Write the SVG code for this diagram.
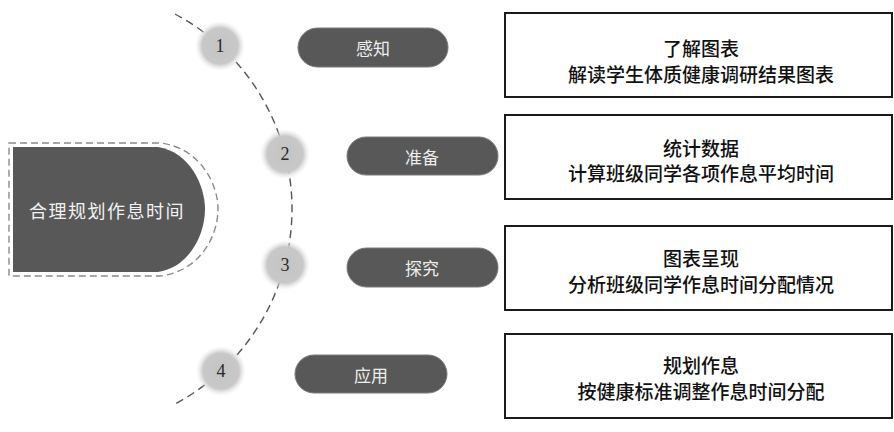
<svg xmlns="http://www.w3.org/2000/svg" width="894" height="432" viewBox="0 0 894 432">
<defs>
<radialGradient id="cg" cx="50%" cy="50%" r="50%">
<stop offset="0%" stop-color="#c4c4c4"/>
<stop offset="72%" stop-color="#c8c8c8"/>
<stop offset="100%" stop-color="#e6e6e6" stop-opacity="0"/>
</radialGradient>
<style>
.num{font-family:"Liberation Serif",serif;font-size:18px;fill:#2a2a2a;text-anchor:middle;dominant-baseline:central}
.pill{fill:#585858;stroke:#7a7a7a;stroke-width:1}
.ptxt{font-family:"Noto Sans CJK SC",sans-serif;font-size:17px;fill:#eeeeee;text-anchor:middle;dominant-baseline:central}
.box{fill:#fff;stroke:#1a1a1a;stroke-width:2}
.btxt{font-family:"Noto Sans CJK SC",sans-serif;font-size:19px;font-weight:500;fill:#111;text-anchor:middle;dominant-baseline:central}
.arc{fill:none;stroke:#555;stroke-width:1.4;stroke-dasharray:8 5}
</style>
</defs>
<rect width="894" height="432" fill="#fff"/>
<g id="connectors">
<path class="arc" d="M175,14 A221,221 0 0,1 175,404"/>
</g>
<g id="main">
<path d="M9,143 H160 C198,147 218,182 218,209 C218,238 198,272 160,276 H9 Z" fill="#fff" stroke="#8a8a8a" stroke-width="1.4" stroke-dasharray="7 4"/>
<path d="M13,147 H158 C190,152 205,186 205,209 C205,234 190,267 158,272 H13 Z" fill="#585858"/>
<text x="107" y="210" font-family="Noto Sans CJK SC, sans-serif" font-size="18" fill="#f2f2f2" text-anchor="middle" dominant-baseline="central" letter-spacing="1.5">合理规划作息时间</text>
</g>
<g id="c1"><circle cx="220" cy="46" r="25" fill="url(#cg)"/><text class="num" x="220" y="46">1</text></g>
<g id="c2"><circle cx="285" cy="154" r="25" fill="url(#cg)"/><text class="num" x="285" y="154">2</text></g>
<g id="c3"><circle cx="285" cy="265" r="25" fill="url(#cg)"/><text class="num" x="285" y="265">3</text></g>
<g id="c4"><circle cx="221" cy="371" r="25" fill="url(#cg)"/><text class="num" x="221" y="371">4</text></g>
<g id="p1"><rect class="pill" x="298" y="28" width="150" height="39" rx="19.5"/><text class="ptxt" x="373" y="47">感知</text></g>
<g id="p2"><rect class="pill" x="347" y="137" width="151" height="38" rx="19"/><text class="ptxt" x="422" y="156">准备</text></g>
<g id="p3"><rect class="pill" x="347" y="248" width="151" height="39" rx="19.5"/><text class="ptxt" x="422" y="267">探究</text></g>
<g id="p4"><rect class="pill" x="295" y="355" width="152" height="38" rx="19"/><text class="ptxt" x="371" y="374">应用</text></g>
<g id="b1"><rect class="box" x="505" y="13" width="387" height="84"/><text class="btxt" x="701" y="47">了解图表</text><text class="btxt" x="701" y="73">解读学生体质健康调研结果图表</text></g>
<g id="b2"><rect class="box" x="505" y="115" width="387" height="84"/><text class="btxt" x="701" y="147">统计数据</text><text class="btxt" x="701" y="172">计算班级同学各项作息平均时间</text></g>
<g id="b3"><rect class="box" x="505" y="226" width="387" height="84"/><text class="btxt" x="701" y="257">图表呈现</text><text class="btxt" x="701" y="283">分析班级同学作息时间分配情况</text></g>
<g id="b4"><rect class="box" x="505" y="334" width="387" height="84"/><text class="btxt" x="701" y="364">规划作息</text><text class="btxt" x="701" y="390">按健康标准调整作息时间分配</text></g>
</svg>
